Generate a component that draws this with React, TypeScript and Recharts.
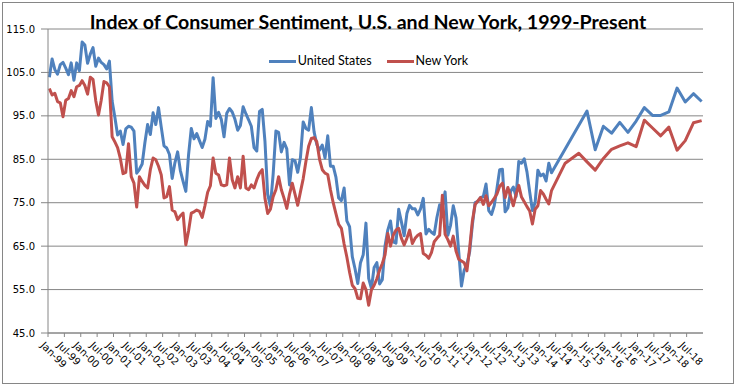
import { LineChart, Line, XAxis, YAxis, CartesianGrid, Legend } from 'recharts';

const W = 737;
const H = 387;

const MONTHS = ['Jan', 'Feb', 'Mar', 'Apr', 'May', 'Jun', 'Jul', 'Aug', 'Sep', 'Oct', 'Nov', 'Dec'];
const N_MONTHS = 240; // Jan-99 .. Dec-18

const tickLabels = [
  'Jan-99', 'Jul-99', 'Jan-00', 'Jul-00', 'Jan-01', 'Jul-01', 'Jan-02', 'Jul-02',
  'Jan-03', 'Jul-03', 'Jan-04', 'Jul-04', 'Jan-05', 'Jul-05', 'Jan-06', 'Jul-06',
  'Jan-07', 'Jul-07', 'Jan-08', 'Jul-08', 'Jan-09', 'Jul-09', 'Jan-10', 'Jul-10',
  'Jan-11', 'Jul-11', 'Jan-12', 'Jul-12', 'Jan-13', 'Jul-13', 'Jan-14', 'Jul-14',
  'Jan-15', 'Jul-15', 'Jan-16', 'Jul-16', 'Jan-17', 'Jul-17', 'Jan-18', 'Jul-18',
];
const yTicks = [45, 55, 65, 75, 85, 95, 105, 115];

// monthly values, Jan-99 .. May-14
const usMonthly = [
  103.9, 108.1, 105.7, 104.6, 106.8, 107.3, 106.0, 104.5, 107.2, 103.2, 107.2, 105.4,
  112.0, 111.3, 107.1, 109.2, 110.7, 106.4, 108.3, 107.3, 106.8, 105.8, 107.6, 98.4,
  94.7, 90.6, 91.5, 88.4, 92.0, 92.6, 92.4, 91.5, 81.8, 82.7, 83.9, 88.8,
  93.0, 90.7, 95.7, 93.0, 96.9, 92.4, 88.1, 87.6, 86.1, 80.6, 84.2, 86.7,
  82.4, 79.9, 77.6, 86.0, 92.1, 89.7, 90.9, 89.3, 87.7, 89.6, 93.7, 92.6,
  103.8, 94.4, 95.8, 94.2, 90.2, 95.6, 96.7, 95.9, 94.2, 91.7, 92.8, 97.1,
  95.5, 94.1, 92.6, 87.7, 86.9, 96.0, 96.5, 89.1, 76.9, 74.2, 81.6, 91.5,
  91.2, 86.7, 88.9, 87.4, 79.1, 84.9, 84.7, 82.0, 85.4, 93.6, 92.1, 91.7,
  96.9, 91.3, 88.4, 87.1, 88.3, 85.3, 90.4, 83.4, 83.4, 80.9, 76.1, 75.5,
  78.4, 70.8, 69.5, 62.6, 59.8, 56.4, 61.2, 63.0, 70.3, 57.6, 55.3, 60.1,
  61.2, 56.3, 57.3, 65.1, 68.7, 70.8, 66.0, 65.7, 73.5, 70.6, 67.4, 72.5,
  74.4, 73.6, 73.6, 72.2, 73.6, 76.0, 67.8, 68.9, 68.2, 67.7, 71.6, 74.5,
  74.2, 77.5, 67.5, 69.8, 74.3, 71.5, 63.7, 55.8, 59.5, 60.8, 63.7, 69.9,
  75.0, 75.3, 76.2, 76.4, 79.3, 73.2, 72.3, 74.3, 78.3, 82.6, 82.7, 72.9,
  73.8, 77.6, 78.6, 76.4, 84.5, 84.1, 85.1, 82.1, 77.5, 73.2, 75.1, 82.5,
  81.2, 81.6, 80.0, 84.1, 81.9,
];

const nyMonthly = [
  101.3, 99.8, 100.2, 98.3, 98.0, 94.8, 98.6, 99.0, 100.8, 99.4, 101.7, 102.0,
  103.1, 102.0, 100.0, 103.9, 103.4, 98.5, 95.2, 98.6, 102.9, 102.6, 101.7, 90.2,
  89.0, 87.7, 85.2, 81.7, 82.0, 88.6, 81.0, 79.5, 74.0, 81.0, 79.9, 79.0,
  78.4, 82.6, 85.3, 84.9, 83.4, 81.4, 76.1, 76.4, 78.7, 73.3, 72.9, 71.1,
  72.0, 72.6, 65.3, 68.5, 72.6, 72.9, 73.3, 73.0, 71.6, 74.3, 77.4, 78.9,
  85.3, 81.8, 81.4, 79.1, 78.9, 79.1, 85.3, 80.3, 78.4, 81.0, 78.4, 85.7,
  78.4, 78.0, 79.1, 78.4, 80.3, 81.8, 82.6, 76.0, 72.5, 73.5, 76.4, 78.0,
  81.0, 78.0, 76.0, 73.7, 77.0, 79.5, 77.0, 74.4, 77.5, 80.5, 84.5, 88.0,
  89.8, 90.0, 89.0, 85.0, 82.6, 81.8, 81.5, 78.0, 75.0, 72.5, 70.0, 69.1,
  65.5, 62.5, 59.0, 56.0, 55.2, 53.0, 52.9, 56.5, 55.0, 51.4, 54.9, 56.0,
  57.5, 59.5, 61.0, 63.0, 67.9, 65.0, 67.5, 68.7, 69.1, 66.8, 65.3, 66.8,
  68.7, 65.6, 66.8, 67.5, 67.9, 63.3, 62.9, 62.2, 63.5, 66.0, 66.8, 67.5,
  76.7, 67.7, 66.5, 65.0, 67.3, 63.9, 62.0, 61.6, 61.2, 59.3, 64.6, 70.8,
  74.6, 75.4, 76.2, 74.6, 76.6, 74.3, 75.1, 76.0, 77.0, 78.8, 79.5, 76.2,
  78.5, 76.5, 74.3, 76.9, 79.0, 76.3, 75.2, 74.1, 73.1, 70.1, 73.5, 74.3,
  77.8, 77.0, 75.8, 74.7, 77.8,
];

// after mid-2014 only some months are plotted
const usLaterMonths = [
  'Jun-15', 'Sep-15', 'Dec-15', 'Mar-16', 'Jun-16', 'Sep-16', 'Dec-16', 'Mar-17',
  'Jun-17', 'Sep-17', 'Dec-17', 'Mar-18', 'Jun-18', 'Sep-18', 'Dec-18',
];
const usLater = [96.1, 87.2, 92.6, 91.0, 93.5, 91.2, 93.8, 96.9, 95.1, 95.1, 95.9, 101.4, 98.2, 100.1, 98.3];

const nyLaterMonths = [
  'Oct-14', 'Mar-15', 'Jun-15', 'Sep-15', 'Dec-15', 'Mar-16', 'Jun-16', 'Sep-16', 'Dec-16',
  'Mar-17', 'Jun-17', 'Sep-17', 'Dec-17', 'Mar-18', 'Jun-18', 'Sep-18', 'Dec-18',
];
const nyLater = [84.1, 86.4, 84.4, 82.5, 85.2, 87.3, 88.1, 88.8, 87.9, 94.0, 92.2, 90.4, 92.4, 87.1, 89.3, 93.4, 93.9];

const SERIES = [
  { key: 'us', name: 'United States', color: '#4F81BD' },
  { key: 'ny', name: 'New York', color: '#C0504D' },
];

function monthIndex(label: string) {
  const [m, y] = label.split('-');
  const yy = Number(y);
  const year = yy > 50 ? 1900 + yy : 2000 + yy;
  return (year - 1999) * 12 + MONTHS.indexOf(m);
}

type Row = { t: number; us: number | null; ny: number | null };
const rows: Row[] = Array.from({ length: N_MONTHS }, (_, i) => ({ t: i + 0.5, us: null, ny: null }));
usMonthly.forEach((v, i) => (rows[i].us = v));
nyMonthly.forEach((v, i) => (rows[i].ny = v));
usLaterMonths.forEach((m, k) => (rows[monthIndex(m)].us = usLater[k]));
nyLaterMonths.forEach((m, k) => (rows[monthIndex(m)].ny = nyLater[k]));

const xTicks = tickLabels.map((_, k) => k * 6);

const AXIS = '#868686';

function XTick(props: any) {
  const { x, y, payload } = props;
  const label = tickLabels[Math.round(payload.value / 6)];
  return (
    <g transform={`translate(${x - 8},${y + 7}) rotate(45)`}>
      <text x={0} y={0} textAnchor="start" fontFamily="DejaVu Sans" fontSize={10} fill="#000">
        {label}
      </text>
    </g>
  );
}

const renderLegend = () => (
  <div
    style={{
      display: 'flex',
      justifyContent: 'center',
      alignItems: 'center',
      gap: 15,
      fontFamily: 'Lato',
      fontSize: 12.5,
      lineHeight: '16px',
      color: '#000',
    }}
  >
    {SERIES.map((s) => (
      <span key={s.key} style={{ display: 'inline-flex', alignItems: 'center', gap: 2 }}>
        <span style={{ display: 'inline-block', width: 27, height: 3, background: s.color }} />
        {s.name}
      </span>
    ))}
  </div>
);

export default function App() {
  return (
    <div style={{ position: 'absolute', left: 0, top: 0, width: W, height: H, background: '#fff' }}>
      <LineChart width={W} height={H} data={rows} margin={{ top: 29, right: 34, bottom: 4, left: 0 }}>
        <CartesianGrid vertical={false} stroke={AXIS} />
        <XAxis
          dataKey="t"
          type="number"
          domain={[0, N_MONTHS]}
          ticks={xTicks}
          interval={0}
          height={50}
          tickSize={4}
          tickMargin={2}
          axisLine={{ stroke: AXIS }}
          tickLine={{ stroke: AXIS }}
          tick={<XTick />}
        />
        <YAxis
          domain={[45, 115]}
          ticks={yTicks}
          interval={0}
          width={48}
          tickSize={7}
          tickMargin={6}
          tickFormatter={(v: number) => v.toFixed(1)}
          axisLine={{ stroke: AXIS }}
          tickLine={{ stroke: AXIS }}
          tick={{ fontSize: 10, fontFamily: 'DejaVu Sans', fill: '#000' }}
        />
        <Legend
          verticalAlign="middle"
          align="center"
          layout="horizontal"
          content={renderLegend}
          wrapperStyle={{ position: 'absolute', top: 53, left: 0, width: W }}
        />
        {SERIES.map((s) => (
          <Line
            key={s.key}
            type="linear"
            dataKey={s.key}
            name={s.name}
            stroke={s.color}
            strokeWidth={3}
            strokeLinejoin="round"
            dot={false}
            activeDot={false}
            connectNulls
            isAnimationActive={false}
          />
        ))}
      </LineChart>
      <svg width={W} height={H} style={{ position: 'absolute', left: 0, top: 0, pointerEvents: 'none' }}>
        <rect x={2.5} y={2.5} width={731} height={381} fill="none" stroke={AXIS} />
        <text x={368} y={29} textAnchor="middle" fontFamily="Lato" fontWeight={700} fontSize={19.6} fill="#000">
          Index of Consumer Sentiment, U.S. and New York, 1999-Present
        </text>
      </svg>
    </div>
  );
}
